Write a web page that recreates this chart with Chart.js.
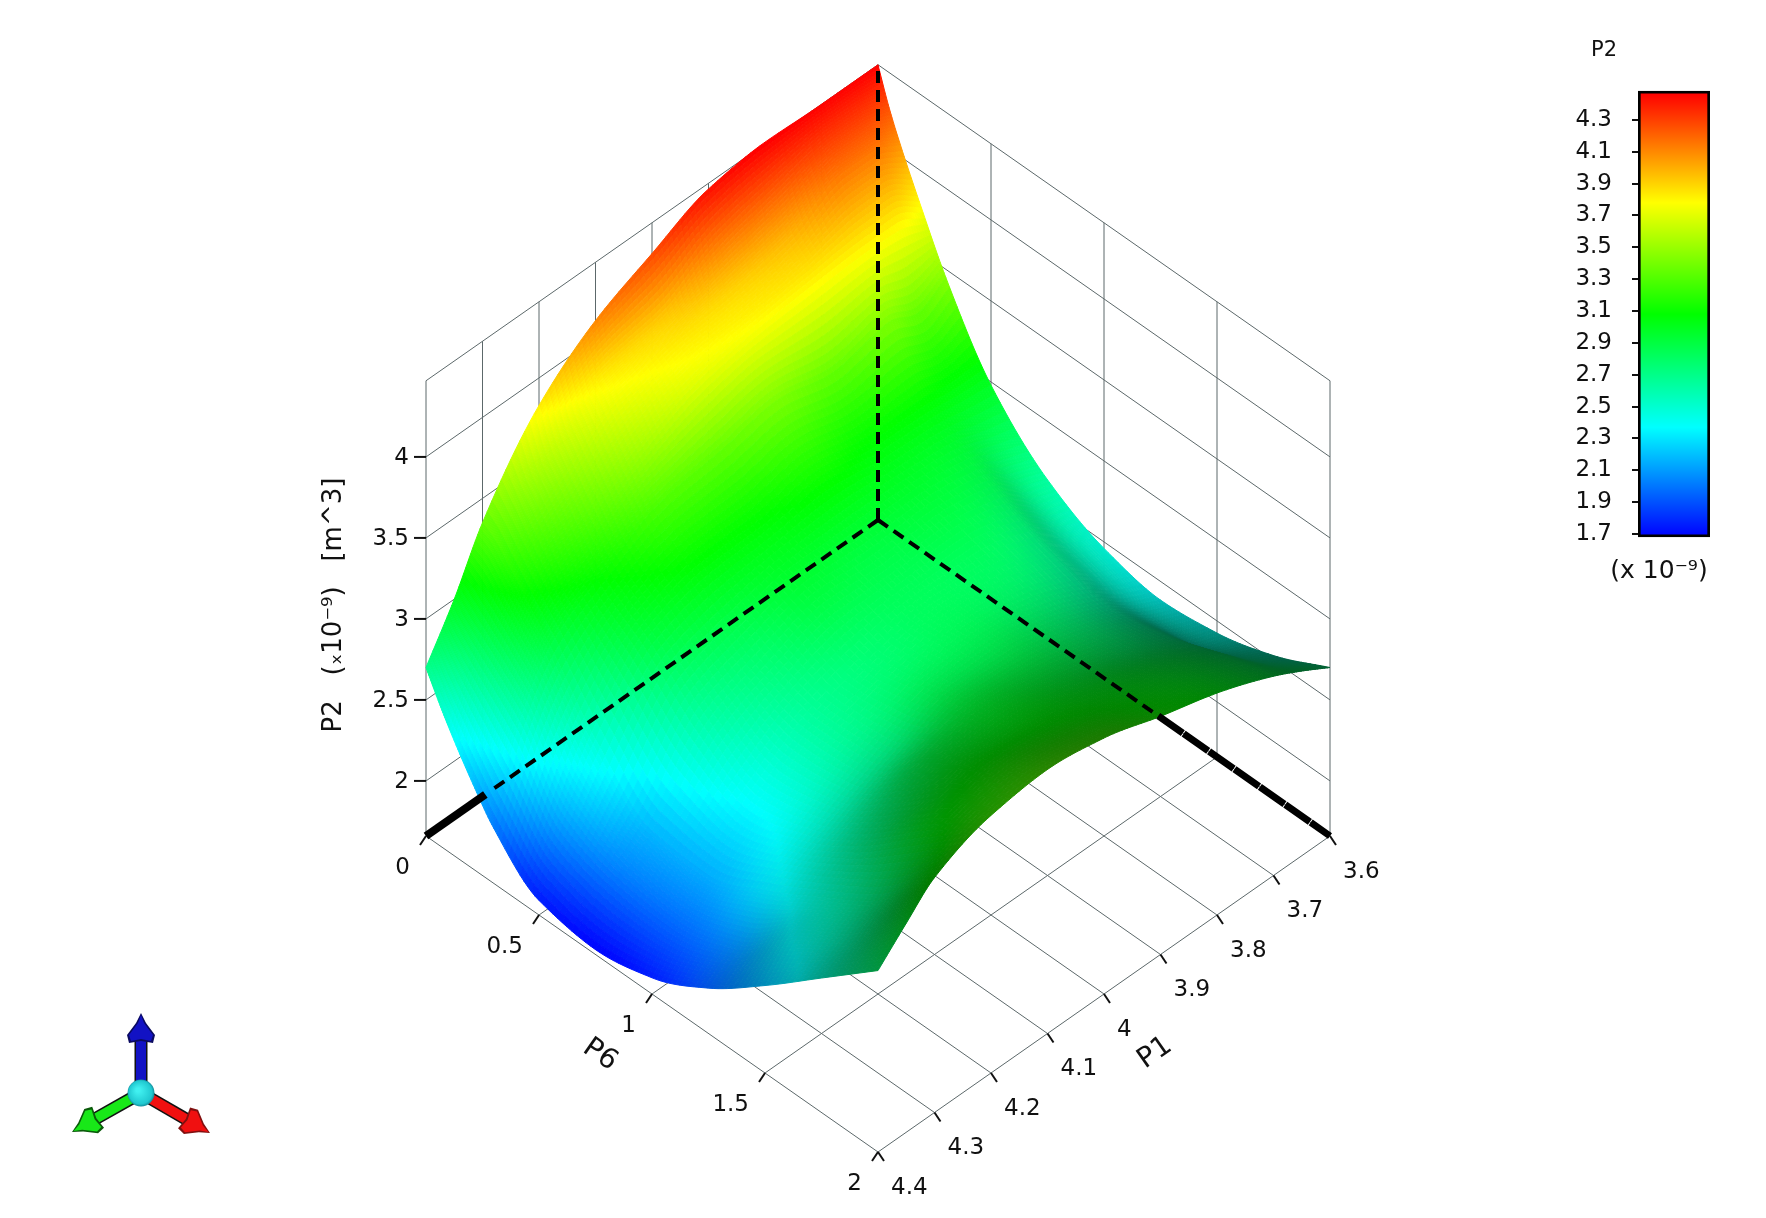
<!DOCTYPE html>
<html><head><meta charset="utf-8"><title>P2 response surface</title>
<style>html,body{margin:0;padding:0;background:#fff;width:1766px;height:1218px;overflow:hidden}
#main{position:absolute;left:0;top:0}#bar{position:absolute;left:1560px;top:57px}</style>
<script src="https://cdn.jsdelivr.net/npm/chart.js@4"></script></head>
<body><canvas id="main" width="1766" height="1218"></canvas><canvas id="bar" width="170" height="514"></canvas>
<script>
// ---- data ----
const P1_VALUES=[3.6,3.65,3.7,3.8,3.9,4.0,4.1,4.2,4.3,4.35,4.4];
const P6_VALUES=[0,0.05,0.1,0.2,0.3,0.5,0.75,1,1.25,1.5,1.75,2];
const P2_AT_P1_360=[4.47,4.25,4.07,3.75,3.45,2.98,2.64,2.46,2.385,2.425,2.53,2.70];
const P2_AT_P1_365=[4.47,4.30,4.15,3.85,3.35,3.00,2.72,2.55,2.47,2.50,2.63,2.80];
const P2_AT_P1_370=[4.47,4.30,4.15,3.85,3.42,3.03,2.84,2.68,2.60,2.66,2.78,2.89];
const P2_AT_P1_380=[4.48,4.20,3.98,3.82,3.35,3.05,2.90,2.80,2.76,2.80,2.93,3.03];
const P2_AT_P1_390=[4.435,4.10,3.90,3.78,3.42,3.10,2.88,2.82,2.84,2.90,3.02,3.13];
const P2_AT_P1_400=[4.28,3.92,3.85,3.72,3.35,3.05,2.90,2.76,2.83,2.95,3.08,3.24];
const P2_AT_P1_410=[4.11,3.85,3.75,3.55,3.30,3.03,2.78,2.66,2.68,2.90,3.10,3.29];
const P2_AT_P1_420=[3.83,3.62,3.50,3.30,3.12,2.92,2.62,2.42,2.50,2.72,3.02,3.25];
const P2_AT_P1_430=[3.35,3.30,3.22,3.05,2.88,2.50,2.18,2.15,2.30,2.50,2.72,3.11];
const P2_AT_P1_435=[3.00,2.92,2.85,2.72,2.58,2.18,2.02,1.98,2.08,2.38,2.60,2.95];
const P2_AT_P1_440=[2.70,2.56,2.43,2.20,2.00,1.75,1.69,1.76,1.94,2.20,2.49,2.78];
const P2_GRID=[P2_AT_P1_360,P2_AT_P1_365,P2_AT_P1_370,P2_AT_P1_380,P2_AT_P1_390,P2_AT_P1_400,P2_AT_P1_410,P2_AT_P1_420,P2_AT_P1_430,P2_AT_P1_435,P2_AT_P1_440];
const P1_TICKS=[3.6,3.7,3.8,3.9,4,4.1,4.2,4.3,4.4];
const P6_TICKS=[0,0.5,1,1.5,2];
const P2_TICKS=[2,2.5,3,3.5,4];
const BAR_TICKS=[1.7,1.9,2.1,2.3,2.5,2.7,2.9,3.1,3.3,3.5,3.7,3.9,4.1,4.3];
const COLOR_LEVELS=[1.68,2.37,3.08,3.78,4.47];
const COLOR_RGB=[[0,0,255],[0,255,255],[0,255,0],[255,255,0],[255,0,0]];
// ---- view ----
const P1_MIN=3.6,P1_MAX=4.4,P6_MIN=0,P6_MAX=2,P2_FLOOR=1.66,P2_TOP=4.47;
const UNIT_X=452,UNIT_Y=316,UNIT_Z=162,ORIGIN_X=878,ORIGIN_Y=520,W=1766,H=1218;
const FONT='"DejaVu Sans"';
function proj(p1,p6,p2){const u=(p1-P1_MIN)/(P1_MAX-P1_MIN),v=(p6-P6_MIN)/(P6_MAX-P6_MIN);
  return {x:v-u,y:u+v-(p2-P2_FLOOR)*UNIT_Z/UNIT_Y};}
function colorOf(z){const L=COLOR_LEVELS;if(z<=L[0])return COLOR_RGB[0].slice();
  for(let i=1;i<L.length;i++)if(z<=L[i]){const t=(z-L[i-1])/(L[i]-L[i-1]),a=COLOR_RGB[i-1],b=COLOR_RGB[i];
    return [a[0]+(b[0]-a[0])*t,a[1]+(b[1]-a[1])*t,a[2]+(b[2]-a[2])*t];}
  return COLOR_RGB[COLOR_RGB.length-1].slice();}
// monotone smooth resampling used only to shade between read values
function tangents(xs,ys){const n=xs.length,d=[],m=new Array(n);
  for(let i=0;i<n-1;i++)d.push((ys[i+1]-ys[i])/(xs[i+1]-xs[i]));
  m[0]=d[0];m[n-1]=d[n-2];
  for(let i=1;i<n-1;i++){if(d[i-1]*d[i]<=0){m[i]=0;continue;}
    const h0=xs[i]-xs[i-1],h1=xs[i+1]-xs[i],w0=2*h1+h0,w1=h1+2*h0;m[i]=(w0+w1)/(w0/d[i-1]+w1/d[i]);}
  return m;}
function resample(xs,ys,k){const m=tangents(xs,ys),out=[];
  for(let i=0;i<xs.length-1;i++){const h=xs[i+1]-xs[i];
    for(let j=0;j<k;j++){const t=j/k,t2=t*t,t3=t2*t;
      out.push((2*t3-3*t2+1)*ys[i]+(t3-2*t2+t)*h*m[i]+(-2*t3+3*t2)*ys[i+1]+(t3-t2)*h*m[i+1]);}}
  out.push(ys[ys.length-1]);return out;}
function axisFine(xs,k){const o=[];for(let i=0;i<xs.length-1;i++)for(let j=0;j<k;j++)o.push(xs[i]+(xs[i+1]-xs[i])*j/k);o.push(xs[xs.length-1]);return o;}
function blur(S,r){const n=S.length,m=S[0].length;let A=S;
  for(let pass=0;pass<2;pass++){const B=A.map(x=>x.slice());
    for(let i=0;i<n;i++)for(let j=0;j<m;j++){let s=0,c=0;
      for(let k=Math.max(0,j-r);k<=Math.min(m-1,j+r);k++){s+=A[i][k];c++;}B[i][j]=s/c;}
    const D=B.map(x=>x.slice());
    for(let j=0;j<m;j++)for(let i=0;i<n;i++){let s=0,c=0;
      for(let k=Math.max(0,i-r);k<=Math.min(n-1,i+r);k++){s+=B[k][j];c++;}D[i][j]=s/c;}
    A=D;}
  return A;}
const SUB=12;
function drawSurface(chart){
  const ctx=chart.ctx,sx=chart.scales.x,sy=chart.scales.y;
  const rows=P2_GRID.map(r=>resample(P6_VALUES,r,SUB));
  const fineU=axisFine(P1_VALUES,SUB),fineV=axisFine(P6_VALUES,SUB);
  const cols=fineV.map((_,j)=>resample(P1_VALUES,rows.map(r=>r[j]),SUB));
  const Z=(i,j)=>cols[j][i];
  const px=(i,j)=>{const p=proj(fineU[i],fineV[j],Z(i,j));return [sx.getPixelForValue(p.x),sy.getPixelForValue(p.y)];};
  const RANGE=P2_TOP-P2_FLOOR,NU=fineU.length-1,NV=fineV.length-1;
  const S=[];
  for(let i=0;i<NU;i++){const row=[];for(let j=0;j<NV;j++){
    const du=(fineU[i+1]-fineU[i])/(P1_MAX-P1_MIN),dv=(fineV[j+1]-fineV[j])/(P6_MAX-P6_MIN);
    const zu=((Z(i+1,j)+Z(i+1,j+1)-Z(i,j)-Z(i,j+1))/2)/du/RANGE;
    const zv=((Z(i,j+1)+Z(i+1,j+1)-Z(i,j)-Z(i+1,j))/2)/dv/RANGE;
    const dot=(-1.2*zu-1.3*zv+1.39)/(2.25*Math.sqrt(1+zu*zu+zv*zv));
    const lit=0.35+0.65*Math.max(0,Math.min(1,dot/0.55));
    const vn=(fineV[j]-P6_MIN)/(P6_MAX-P6_MIN),q=Math.max(0,Math.min(1,(vn-0.5)/0.4)),ss=q*q*(3-2*q);
    row.push(Math.max(0.38,lit*(1-0.22*ss)));}S.push(row);}
  const SS=blur(S,5);
  ctx.save();ctx.lineWidth=1;ctx.lineJoin='round';
  for(let i=0;i<NU;i++)for(let j=0;j<NV;j++){
    const a=px(i,j),b=px(i+1,j),c=px(i+1,j+1),d=px(i,j+1);
    const z=(Z(i,j)+Z(i+1,j)+Z(i+1,j+1)+Z(i,j+1))/4;
    const rgb=colorOf(z).map(q=>Math.round(q*SS[i][j]));
    const col='rgb('+rgb.join(',')+')';
    ctx.fillStyle=col;ctx.strokeStyle=col;ctx.beginPath();
    ctx.moveTo(a[0],a[1]);ctx.lineTo(b[0],b[1]);ctx.lineTo(c[0],c[1]);ctx.lineTo(d[0],d[1]);ctx.closePath();ctx.fill();ctx.stroke();
  }
  ctx.restore();
}
function drawTriad(ctx){
  const cx=141,cy=1093;
  function arrow(tx,ty,col,dark){const a=Math.atan2(ty-cy,tx-cx),L=Math.hypot(tx-cx,ty-cy);
    ctx.save();ctx.translate(cx,cy);ctx.rotate(a);
    ctx.fillStyle='#111';ctx.fillRect(0,-6.5,L-24,13);
    ctx.fillStyle=col;ctx.fillRect(0,-5,L-24,10);
    function head(g,shrink){ctx.beginPath();ctx.moveTo(L-shrink,0);ctx.lineTo(L-10,-5+shrink);ctx.lineTo(L-22,-14+shrink);ctx.lineTo(L-30+shrink,-12+shrink);ctx.lineTo(L-28+shrink,0);ctx.lineTo(L-30+shrink,12-shrink);ctx.lineTo(L-22,14-shrink);ctx.lineTo(L-10,5-shrink);ctx.closePath();ctx.fillStyle=g;ctx.fill();}
    head(dark,0);head(col,2);
    ctx.restore();}
  arrow(141,1013,'#1212c4','#0a0a60');
  arrow(72,1132,'#18e818','#0a5a0a');
  arrow(210,1133,'#f01010','#801010');
  const g=ctx.createRadialGradient(cx-3,cy-3,2,cx,cy,14);g.addColorStop(0,'#40f0f0');g.addColorStop(.8,'#20c8d0');g.addColorStop(1,'#108090');
  ctx.fillStyle=g;ctx.beginPath();ctx.arc(cx,cy,13.5,0,Math.PI*2);ctx.fill();
}
const surfacePlugin={id:'surface',
  beforeDatasetDraw(chart,args){if(chart.data.datasets[args.index].label==='P2 surface')drawSurface(chart);},
  afterDraw(chart){
    const ctx=chart.ctx,sx=chart.scales.x,sy=chart.scales.y;
    const at=(p1,p6,p2)=>{const p=proj(p1,p6,p2);return [sx.getPixelForValue(p.x),sy.getPixelForValue(p.y)];};
    ctx.save();ctx.strokeStyle='#111';ctx.fillStyle='#111';ctx.lineWidth=2;
    ctx.font='23px '+FONT;ctx.textBaseline='middle';
    ctx.textAlign='left';
    P1_TICKS.forEach(t=>{const b=at(t,P6_MAX,P2_FLOOR);
      ctx.beginPath();ctx.moveTo(b[0],b[1]);ctx.lineTo(b[0]+6,b[1]+9);ctx.stroke();
      ctx.fillText(String(t),b[0]+13,b[1]+36);});
    ctx.textAlign='right';
    P6_TICKS.forEach(t=>{const b=at(P1_MAX,t,P2_FLOOR);
      ctx.beginPath();ctx.moveTo(b[0],b[1]);ctx.lineTo(b[0]-6,b[1]+9);ctx.stroke();
      ctx.fillText(String(t),b[0]-16,b[1]+32);});
    P2_TICKS.forEach(t=>{const b=at(P1_MAX,P6_MIN,t);
      ctx.beginPath();ctx.moveTo(b[0],b[1]);ctx.lineTo(b[0]-12,b[1]);ctx.stroke();
      ctx.fillText(String(t),b[0]-17,b[1]+1);});
    ctx.textAlign='center';ctx.font='28px '+FONT;
    ctx.save();ctx.translate(600,1055);ctx.rotate(35*Math.PI/180);ctx.fillText('P6',0,0);ctx.restore();
    ctx.save();ctx.translate(1155,1053);ctx.rotate(-35*Math.PI/180);ctx.fillText('P1',0,0);ctx.restore();
    ctx.font='26px '+FONT;
    ctx.save();ctx.translate(334,605);ctx.rotate(-Math.PI/2);ctx.fillText('P2   (\u209310\u207B\u2079)   [m^3]',0,0);ctx.restore();
    ctx.font='21px '+FONT;ctx.fillText('P2',1604,51);
    ctx.font='25px '+FONT;ctx.fillText('(x 10\u207B\u2079)',1659,571);
    drawTriad(ctx);
    ctx.restore();
  }};
// ---- datasets built from the arrays ----
const GRID_COLOR='#5c686a';
function seg(a,b){return {type:'scatter',showLine:true,pointRadius:0,borderColor:GRID_COLOR,borderWidth:1,order:3,data:[proj(a[0],a[1],a[2]),proj(b[0],b[1],b[2])]};}
const datasets=[];
P1_TICKS.forEach(t=>{datasets.push(seg([t,P6_MIN,P2_FLOOR],[t,P6_MAX,P2_FLOOR]));datasets.push(seg([t,P6_MIN,P2_FLOOR],[t,P6_MIN,P2_TOP]));});
P6_TICKS.forEach(t=>{datasets.push(seg([P1_MIN,t,P2_FLOOR],[P1_MAX,t,P2_FLOOR]));datasets.push(seg([P1_MIN,t,P2_FLOOR],[P1_MIN,t,P2_TOP]));});
P2_TICKS.concat([P2_TOP]).forEach(t=>{datasets.push(seg([P1_MAX,P6_MIN,t],[P1_MIN,P6_MIN,t]));datasets.push(seg([P1_MIN,P6_MIN,t],[P1_MIN,P6_MAX,t]));});
const surfacePoints=[];P1_VALUES.forEach((p1,i)=>P6_VALUES.forEach((p6,j)=>surfacePoints.push(proj(p1,p6,P2_GRID[i][j]))));
datasets.push({label:'P2 surface',type:'scatter',showLine:false,pointRadius:0,order:2,data:surfacePoints});
function heavy(a,b,w,dash){return {type:'scatter',showLine:true,pointRadius:0,borderColor:'#000',borderWidth:w,borderDash:dash,order:1,data:[proj(a[0],a[1],a[2]),proj(b[0],b[1],b[2])]};}
const DASH=[12,7];
datasets.push(heavy([P1_MIN,P6_MIN,P2_FLOOR],[P1_MIN,P6_MIN,P2_TOP],4,DASH));
datasets.push(heavy([P1_MIN,P6_MIN,P2_FLOOR],[4.28,P6_MIN,P2_FLOOR],4,DASH));
datasets.push(heavy([P1_MIN,P6_MIN,P2_FLOOR],[P1_MIN,1.24,P2_FLOOR],4,DASH));
datasets.push(heavy([4.295,P6_MIN,P2_FLOOR],[P1_MAX,P6_MIN,P2_FLOOR],8,[]));
datasets.push(heavy([P1_MIN,1.24,P2_FLOOR],[P1_MIN,P6_MAX,P2_FLOOR],7,[30,1]));
new Chart(document.getElementById('main'),{type:'scatter',data:{datasets},plugins:[surfacePlugin],
  options:{responsive:false,animation:false,layout:{padding:0},plugins:{legend:{display:false},tooltip:{enabled:false}},
    scales:{x:{type:'linear',display:false,min:-ORIGIN_X/UNIT_X,max:(W-ORIGIN_X)/UNIT_X},
            y:{type:'linear',display:false,reverse:true,min:-ORIGIN_Y/UNIT_Y,max:(H-ORIGIN_Y)/UNIT_Y}}}});
// ---- colour bar ----
new Chart(document.getElementById('bar'),{type:'bar',
  data:{labels:['P2'],datasets:[{data:[[COLOR_LEVELS[0],4.483]],barPercentage:1,categoryPercentage:1,borderColor:'#000',borderWidth:3,borderSkipped:false,
    backgroundColor(c){const a=c.chart.chartArea;if(!a)return '#0f0';const s=c.chart.scales.y;
      const g=c.chart.ctx.createLinearGradient(0,s.getPixelForValue(COLOR_LEVELS[0]),0,s.getPixelForValue(COLOR_LEVELS[4]));
      COLOR_LEVELS.forEach((l,i)=>g.addColorStop((l-COLOR_LEVELS[0])/(COLOR_LEVELS[4]-COLOR_LEVELS[0]),'rgb('+COLOR_RGB[i].join(',')+')'));return g;}}]},
  options:{responsive:false,animation:false,layout:{autoPadding:false,padding:{top:20,bottom:20,left:0,right:20}},plugins:{legend:{display:false},tooltip:{enabled:false}},
    scales:{x:{display:false},
      y:{min:1.68,max:4.483,border:{color:'#000',width:0},grid:{drawOnChartArea:false,color:'#111',lineWidth:2,tickLength:6},
        afterBuildTicks(s){s.ticks=BAR_TICKS.map(v=>({value:v}));},
        afterFit(s){s.width=78;},
        ticks:{padding:20,color:'#111',font:{family:'DejaVu Sans',size:23},autoSkip:false,callback:v=>v.toFixed(1)}}}}});
</script></body></html>
